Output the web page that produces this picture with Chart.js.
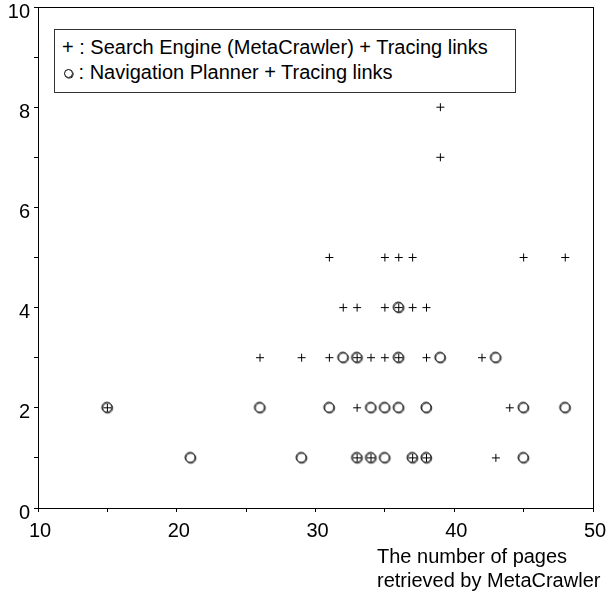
<!DOCTYPE html>
<html>
<head>
<meta charset="utf-8">
<script src="https://cdn.jsdelivr.net/npm/chart.js@4/dist/chart.umd.min.js"></script>
<style>
  body { margin: 0; background: #fff; }
  #wrap { position: relative; width: 607px; height: 594px; }
  #legend {
    position: absolute; left: 54px; top: 29px; width: 462px; height: 64px;
    border: 1px solid #333; box-sizing: border-box; background: #fff;
    font: 20px "Liberation Sans", Arial, sans-serif; color: #000;
    padding: 5px 0 0 7px; line-height: 25px; white-space: nowrap;
  }
  .ring {
    display: inline-block; width: 7px; height: 7px; border: 1px solid #000;
    border-radius: 50%; box-shadow: 0.6px 0.6px 0 #000; margin: 0 0 1px 2px;
  }
  #xtitle {
    position: absolute; left: 377px; top: 544px; white-space: nowrap;
    font: 20px "Liberation Sans", Arial, sans-serif; color: #000; line-height: 24px;
  }
</style>
</head>
<body>
<div id="wrap">
  <canvas id="scatterChart" width="607" height="594"></canvas>
  <div id="legend">
    <div>+ : Search Engine (MetaCrawler) + Tracing links</div>
    <div><span class="ring"></span> : Navigation Planner + Tracing links</div>
  </div>
  <div id="xtitle">The number of pages<br>retrieved by MetaCrawler</div>
</div>
<script>
// Search Engine (MetaCrawler) + Tracing links  ( + )
const searchX = [39, 39, 31, 35, 36, 37, 45, 48, 32, 33, 35, 36, 37, 38,
                 26, 29, 31, 33, 34, 35, 36, 38, 42, 15, 33, 44, 33, 34, 37, 38, 43];
const searchY = [8, 7, 5, 5, 5, 5, 5, 5, 4, 4, 4, 4, 4, 4,
                 3, 3, 3, 3, 3, 3, 3, 3, 3, 2, 2, 2, 1, 1, 1, 1, 1];

// Navigation Planner + Tracing links  ( o )
const plannerX = [36, 32, 33, 36, 39, 43, 15, 26, 31, 34, 35, 36, 38, 45, 48,
                  21, 29, 33, 34, 35, 37, 38, 45];
const plannerY = [4, 3, 3, 3, 3, 3, 2, 2, 2, 2, 2, 2, 2, 2, 2,
                  1, 1, 1, 1, 1, 1, 1, 1];

function toPoints(xs, ys) {
    return xs.map((x, i) => ({ x: x, y: ys[i] }));
}

// double-stroked circle marker, like the original print
const ring = document.createElement('canvas');
ring.width = 15;
ring.height = 15;
const rc = ring.getContext('2d');
rc.strokeStyle = '#000';
rc.lineWidth = 1;
rc.beginPath(); rc.arc(7, 7, 5, 0, Math.PI * 2); rc.stroke();
rc.lineWidth = 0.8;
rc.beginPath(); rc.arc(7.8, 7.8, 5, 0, Math.PI * 2); rc.stroke();

const boxPlugin = {
    id: 'box',
    afterDraw(chart) {
        const a = chart.chartArea;
        const c = chart.ctx;
        c.save();
        c.strokeStyle = '#000';
        c.lineWidth = 1;
        c.strokeRect(a.left + 0.5, a.top + 0.5, a.right - a.left, a.bottom - a.top);
        c.restore();
    }
};

const tickFont = { family: '"Liberation Sans", Arial, sans-serif', size: 20 };

new Chart(document.getElementById('scatterChart').getContext('2d'), {
    type: 'scatter',
    data: {
        datasets: [{
            label: 'Search Engine (MetaCrawler) + Tracing links',
            data: toPoints(searchX, searchY),
            pointStyle: 'cross',
            radius: 4,
            borderColor: '#000',
            borderWidth: 1
        }, {
            label: 'Navigation Planner + Tracing links',
            data: toPoints(plannerX, plannerY),
            pointStyle: ring,
            radius: 6
        }]
    },
    options: {
        responsive: false,
        animation: false,
        events: [],
        layout: { padding: { top: 6, right: 14, left: 0, bottom: 0 } },
        plugins: {
            legend: { display: false },
            tooltip: { enabled: false }
        },
        scales: {
            x: {
                type: 'linear',
                min: 10,
                max: 50,
                afterFit: s => { s.height = 86; s.paddingLeft = 0; s.paddingRight = 0; },
                grid: { drawOnChartArea: false, tickLength: 4, color: '#000' },
                border: { color: '#000' },
                ticks: {
                    stepSize: 5,
                    padding: 7,
                    color: '#000',
                    font: tickFont,
                    maxRotation: 0,
                    labelOffset: 2,
                    callback: v => (v % 10 === 0 ? v : '')
                }
            },
            y: {
                min: 0,
                max: 10,
                afterFit: s => { s.width = 38; s.paddingTop = 0; s.paddingBottom = 0; },
                grid: { drawOnChartArea: false, tickLength: 4, color: '#000' },
                border: { color: '#000' },
                ticks: {
                    stepSize: 1,
                    padding: 4,
                    color: '#000',
                    font: tickFont,
                    labelOffset: 5,
                    callback: v => (v % 2 === 0 ? v : '')
                }
            }
        }
    },
    plugins: [boxPlugin]
});
</script>
</body>
</html>
